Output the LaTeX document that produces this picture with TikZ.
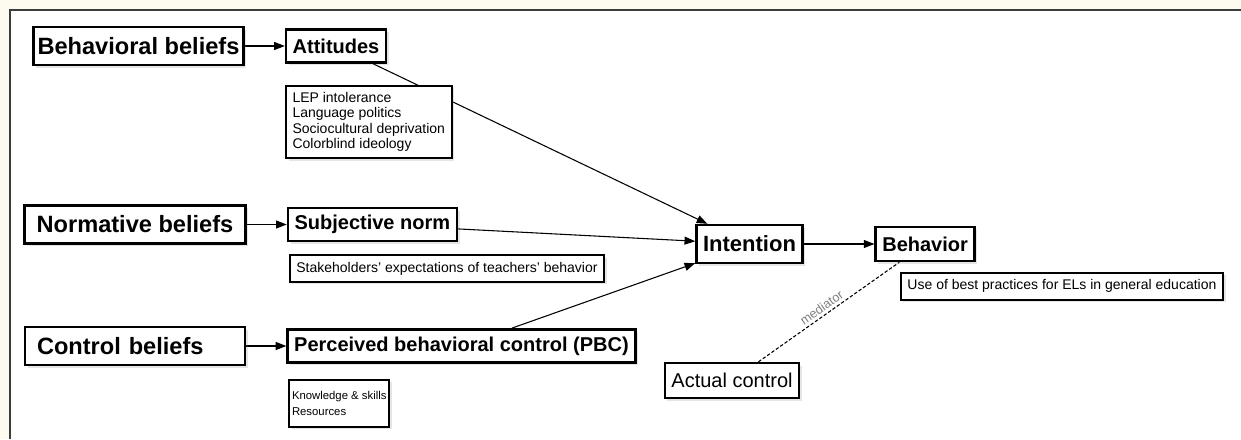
\documentclass[tikz,border=0pt]{standalone}
\usepackage{fontspec}
\setmainfont{Liberation Sans}
\usetikzlibrary{arrows.meta,positioning,shadows,backgrounds}
\definecolor{paper}{RGB}{253,250,240}
\definecolor{framegray}{RGB}{60,60,60}
\tikzset{
  beliefbox/.style={
    rectangle, draw=black, line width=2pt, fill=white,
    font=\fontsize{17.7}{20}\selectfont\bfseries,
    inner xsep=3pt, inner ysep=0pt, minimum height=28.5pt,
    drop shadow={shadow xshift=2pt, shadow yshift=-2pt, opacity=0.2}
  },
  constructbox/.style={beliefbox, line width=1.8pt,
    font=\fontsize{15}{18}\selectfont\bfseries, inner xsep=5pt, minimum height=25pt},
  plainbox/.style={constructbox, font=\fontsize{15}{18}\selectfont},
  notebox/.style={
    rectangle, draw=black, line width=1.5pt, fill=white, align=left,
    font=\fontsize{10.5}{11.6}\selectfont, inner xsep=5pt, inner ysep=5pt,
    drop shadow={shadow xshift=2pt, shadow yshift=-2pt, opacity=0.2}
  },
  link/.style={-{Triangle[length=8pt,width=6pt]}, line width=0.8pt},
  medlink/.style={line width=0.8pt, dash pattern=on 2.5pt off 1.5pt},
  medlabel/.style={font=\fontsize{9.5}{11}\selectfont, text=gray, sloped, above, inner sep=2pt},
}
\begin{document}
\begin{tikzpicture}[x=0.75pt, y=-0.75pt]
  \useasboundingbox (0,0) rectangle (1241,439);
  % beliefs -> constructs
  \node (bb) [beliefbox] at (138.5,46) {Behavioral beliefs};
  \node (att) [constructbox, right=30pt of bb] {Attitudes};
  \node (lep) [notebox, below=15.5pt of att.south west, anchor=north west]
    {LEP intolerance\\Language politics\\Sociocultural deprivation\\Colorblind ideology};
  \node (nb) [beliefbox, inner xsep=9pt, minimum width=165pt] at (135,224.5) {Normative beliefs};
  \node (sn) [constructbox, right=30pt of nb] {Subjective norm};
  \node (stk) [notebox, below=9pt of sn.south west, anchor=north west, xshift=1.5pt, minimum height=18.75pt]
    {Stakeholders' expectations of teachers' behavior};
  \node (cb) [beliefbox, inner xsep=9pt, text width=147pt, align=left] at (135,346) {Control beliefs};
  \node (pbc) [constructbox, right=30pt of cb] {Perceived behavioral control (PBC)};
  \node (kn) [notebox, below=11pt of pbc.south west, anchor=north west, xshift=1.5pt,
    font=\fontsize{8.5}{12}\selectfont, inner xsep=2pt, minimum height=35.25pt]
    {Knowledge \& skills\\Resources};
  % outcome side
  \node (int) [constructbox, font=\fontsize{16.5}{19}\selectfont\bfseries, minimum height=28.5pt]
    at (749.5,244) {Intention};
  \node (beh) [constructbox, right=53pt of int, minimum height=25.5pt] {Behavior};
  \node (use) [notebox, below=7pt of beh.south west, anchor=north west, xshift=19pt, minimum height=20.25pt]
    {Use of best practices for ELs in general education};
  \node (ac) [plainbox, minimum height=26.25pt] at (732,380.5) {Actual control};
  \begin{scope}[on background layer]
    \fill[paper] (0,0) rectangle (1241,439);
    \fill[white] (10,10) rectangle (1241,439);
    \draw[framegray, line width=1.5pt] (1241,10) -- (10,10) -- (10,439);
    \draw[link] (bb) -- (att);
    \draw[link] (nb) -- (sn);
    \draw[link] (cb) -- (pbc);
    \draw[link] (att) -- (int);
    \draw[link] (sn) -- (int);
    \draw[link] (pbc) -- (int);
    \draw[link] (int) -- (beh);
    \draw[medlink] (ac) -- node[medlabel, pos=0.48] {mediator} (beh);
  \end{scope}
\end{tikzpicture}
\end{document}
